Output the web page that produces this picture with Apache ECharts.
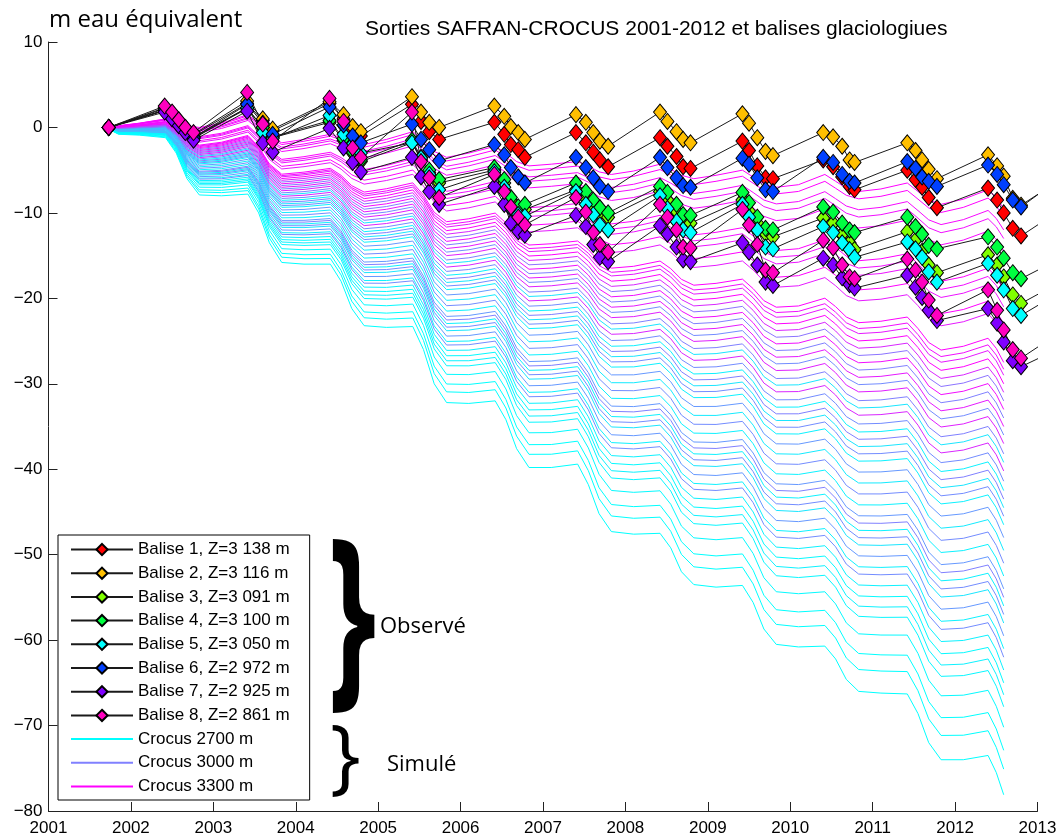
<!DOCTYPE html>
<html><head><meta charset="utf-8">
<script src="https://cdn.jsdelivr.net/npm/echarts@6/dist/echarts.min.js"></script>
<style>html,body{margin:0;padding:0;background:#fff}#c{width:1062px;height:839px}</style>
</head><body><div id="c"></div>
<script>
// ---------------- DATA ----------------
const xTickYears = [2001,2002,2003,2004,2005,2006,2007,2008,2009,2010,2011,2012,2013];
const yTickValues = [10,0,-10,-20,-30,-40,-50,-60,-70,-80];

const baliseNames = ['Balise 1, Z=3 138 m','Balise 2, Z=3 116 m','Balise 3, Z=3 091 m','Balise 4, Z=3 100 m',
  'Balise 5, Z=3 050 m','Balise 6, Z=2 972 m','Balise 7, Z=2 925 m','Balise 8, Z=2 861 m'];
const baliseColors = ['#ff0000','#ffbf00','#80ff00','#00ff40','#00ffff','#0040ff','#8000ff','#ff00bf'];

const baliseDates = [2001.73,
 2002.41,2002.50,2002.58,2002.66,2002.76,
 2003.41,2003.60,2003.72,
 2004.41,2004.58,2004.69,2004.79,
 2005.41,2005.52,2005.62,2005.74,
 2006.41,2006.53,2006.61,2006.70,2006.78,
 2007.40,2007.52,2007.61,2007.69,2007.79,
 2008.42,2008.51,2008.62,2008.70,2008.79,
 2009.42,2009.50,2009.60,2009.70,2009.79,
 2010.40,2010.52,2010.63,2010.72,2010.78,
 2011.42,2011.52,2011.60,2011.68,2011.78,
 2012.40,2012.51,2012.59,2012.70,2012.80,
 2013.41];

const balise1 = [0, 2.2,1.5,0.7,-0.1,-0.9, 2.8,0.8,-0.4, 2.8,1.0,-0.3,-1.0, 2.7,0.7,-0.5,-1.4, 0.6,-0.8,-2.0,-2.6,-3.5, -0.6,-1.8,-2.9,-3.8,-4.6, -1.2,-2.2,-3.4,-4.6,-4.8, -1.6,-2.7,-4.5,-5.9,-6.0, -3.8,-4.6,-5.8,-6.9,-7.3, -5.0,-6.1,-7.0,-8.2,-9.4, -7.1,-8.5,-10.0,-11.8,-12.7, -8.8];
const balise2 = [0, 2.3,1.6,0.8,0.0,-0.8, 3.1,1.0,-0.2, 3.0,1.5,0.1,-0.5, 3.6,1.8,0.6,0.0, 2.5,1.3,0.1,-0.6,-1.4, 1.5,0.6,-0.6,-1.6,-2.2, 1.8,0.7,-0.5,-1.4,-1.8, 1.6,0.5,-1.2,-2.8,-3.3, -0.6,-1.1,-2.2,-3.8,-4.1, -1.8,-2.7,-3.8,-4.9,-6.0, -3.2,-4.5,-5.7,-8.3,-9.1, -5.3];
const balise3 = [0, 2.0,1.2,0.4,-0.4,-1.2, 2.2,0.0,-1.2, 0.6,-1.5,-3.0,-4.0, -1.8,-3.8,-5.3,-6.5, -5.0,-6.5,-8.5,-9.5,-9.6, -7.3,-8.3,-9.2,-10.0,-10.5, -7.5,-8.5,-9.8,-10.8,-11.2, -8.5,-9.8,-11.2,-12.4,-12.8, -10.6,-11.2,-12.5,-13.5,-14.3, -12.2,-13.2,-14.5,-16.1,-17.0, -14.9,-16.1,-17.5,-19.6,-20.6, -17.4];
const balise4 = [0, 2.0,1.3,0.4,-0.4,-1.1, 2.3,0.0,-1.1, 0.8,-1.3,-2.8,-3.8, -1.5,-3.5,-5.0,-6.1, -4.7,-6.1,-8.2,-9.3,-9.0, -6.5,-7.5,-8.5,-9.4,-10.0, -6.9,-7.6,-9.0,-10.2,-10.3, -7.6,-8.8,-10.5,-11.8,-12.0, -9.3,-9.9,-11.2,-12.0,-12.3, -10.5,-11.6,-12.5,-13.8,-14.2, -12.8,-14.0,-15.3,-17.0,-17.7, -14.7];
const balise5 = [0, 2.0,1.2,0.3,-0.5,-1.3, 2.3,-0.6,-1.3, 1.4,-0.8,-2.0,-3.0, -1.8,-3.6,-5.5,-7.3, -5.2,-7.0,-9.5,-10.2,-10.4, -7.5,-9.0,-10.2,-11.4,-12.0, -8.0,-9.5,-11.0,-12.0,-12.3, -9.0,-10.5,-12.0,-14.0,-14.2, -11.6,-12.3,-13.5,-14.3,-15.2, -13.4,-14.2,-15.2,-16.9,-18.1, -15.9,-17.3,-19.0,-21.2,-22.0, -18.5];
const balise6 = [0, 2.0,1.3,0.5,-0.3,-1.2, 2.7,0.5,-0.8, 2.4,0.3,-1.0,-1.8, 0.4,-1.4,-2.6,-3.9, -2.0,-3.2,-4.7,-5.8,-6.5, -3.5,-4.7,-5.9,-6.9,-7.5, -3.5,-4.7,-5.9,-6.8,-7.0, -3.6,-4.3,-5.9,-7.3,-7.5, -3.5,-4.1,-5.5,-6.3,-6.5, -4.0,-4.8,-5.8,-6.3,-6.9, -4.4,-5.5,-6.7,-8.5,-9.3, -5.0];
const balise7 = [0, 1.8,1.0,0.2,-0.6,-1.5, 1.9,-1.8,-2.9, -0.1,-2.4,-4.1,-5.2, -3.5,-5.8,-7.5,-9.0, -6.9,-9.0,-11.2,-12.2,-12.6, -10.3,-11.6,-13.7,-15.2,-15.7, -11.5,-12.5,-14.0,-15.5,-15.7, -13.5,-14.6,-16.1,-18.1,-18.5, -15.3,-16.1,-17.6,-18.4,-18.8, -17.3,-18.7,-19.9,-21.4,-22.6, -21.2,-22.9,-25.1,-27.3,-28.0, -25.2];
const balise8 = [0, 2.5,1.8,0.9,0.0,-0.6, 4.1,0.4,-1.6, 3.4,0.7,-2.4,-3.5, 1.8,-4.0,-5.9,-8.2, -5.5,-7.5,-9.3,-10.5,-11.4, -8.2,-9.9,-12.3,-13.7,-14.6, -9.0,-10.5,-12.0,-14.0,-14.1, -9.6,-11.4,-13.7,-16.7,-17.0, -13.2,-14.1,-16.1,-17.5,-17.7, -15.4,-16.7,-18.1,-20.2,-22.0, -19.0,-21.4,-23.7,-26.0,-27.0, -23.1];
const baliseValues = [balise1,balise2,balise3,balise4,balise5,balise6,balise7,balise8];

// Crocus simulated curves: read envelope lines (highest and lowest) at key dates,
// plus end value (2012.59) and altitude tone (0 = 2700 m, 1 = 3300 m) of each curve.
const crocusDates = [2001.75,2001.85,
 2002.10,2002.42,2002.55,2002.68,2002.83,
 2003.10,2003.42,2003.55,2003.68,2003.83,
 2004.10,2004.42,2004.55,2004.68,2004.83,
 2005.10,2005.42,2005.55,2005.68,2005.83,
 2006.10,2006.42,2006.55,2006.68,2006.83,
 2007.10,2007.42,2007.55,2007.68,2007.83,
 2008.10,2008.42,2008.55,2008.68,2008.83,
 2009.10,2009.42,2009.55,2009.68,2009.83,
 2010.10,2010.42,2010.55,2010.68,2010.83,
 2011.10,2011.42,2011.55,2011.68,2011.83,
 2012.10,2012.40,2012.50,2012.59];
const crocusTop = [0,0.2,
 0.5,1.0,0.7,0.2,0.0,
 0.5,1.5,0.5,-1.0,-1.8,
 -1.4,-0.8,-1.2,-1.7,-2.0,
 -1.4,-0.5,-1.5,-2.8,-3.5,
 -3.0,-2.2,-3.0,-4.0,-4.5,
 -4.3,-4.0,-4.5,-5.2,-5.5,
 -5.1,-4.3,-4.9,-5.6,-6.0,
 -5.6,-5.0,-5.8,-6.6,-7.0,
 -6.7,-5.5,-6.3,-7.1,-7.5,
 -7.2,-6.5,-7.5,-8.5,-9.0,
 -8.4,-7.3,-8.2,-9.5];
const crocusBottom = [-0.3,-0.8,
 -0.9,-1.2,-3.0,-6.0,-7.9,
 -8.0,-7.8,-10.0,-13.5,-15.8,
 -16.0,-16.0,-18.0,-21.2,-23.2,
 -23.4,-23.3,-26.0,-30.0,-32.2,
 -32.3,-32.0,-34.2,-37.6,-39.8,
 -39.8,-39.4,-41.8,-45.2,-47.3,
 -47.6,-47.5,-49.2,-52.0,-53.5,
 -53.8,-53.6,-55.6,-58.7,-60.5,
 -60.8,-60.7,-62.2,-64.6,-66.0,
 -66.2,-66.3,-68.6,-72.0,-74.0,
 -74.0,-73.5,-75.5,-78.1];
const crocusEnd = [-9.5,-10.5,-12,-13,-14.5,-19,-20,-21,-23,-24.5,
 -27.5,-28.3,-29,-30,-31,-32,-33,-34,-35,-36,-37,-38.2,-39.2,-40.2,-41.4,-42.5,-43.5,-44.5,-45.5,-46.5,
 -48,-49.5,-51,-52.5,-54,-55,-56,-57,-58,-59.5,-61,-62,-63.5,-65,-66.4,-67.8,-70.2,-72.9,-75.1,-78.1];
const crocusTone = [1,1,0.97,0.95,0.97,1,0.95,0.93,1,0.9,
 1,0.95,0.9,1,0.85,0.55,0.95,0.5,0.9,0.45,0.88,0.5,0.1,0.85,0.45,0.05,0.5,0.1,0.45,0.05,
 0.4,0.08,0.45,0.05,0.4,0.5,0.05,0.45,0.1,0.4,0.05,0.45,0.05,0.02,0.05,0.03,0.02,0,0,0];
const crocusLegend = {49:'Crocus 2700 m', 17:'Crocus 3000 m', 0:'Crocus 3300 m'};

// ---------------- CHART ----------------
const chart = echarts.init(document.getElementById('c'), null, {renderer:'canvas'});
const coolColor = t => `rgb(${Math.round(255*t)},${Math.round(255*(1-t))},255)`;
const nLast = crocusDates.length - 1;
const series = [];
crocusEnd.forEach((e, i) => {
  const w = (e - crocusTop[nLast]) / (crocusBottom[nLast] - crocusTop[nLast]);
  series.push({
    type:'line', name: crocusLegend[i] || ('crocus' + i), symbol:'none', silent:true,
    data: crocusDates.map((d,k) => [d, crocusTop[k] + w*(crocusBottom[k]-crocusTop[k])]),
    lineStyle:{color: coolColor(crocusTone[i]), width:1}, itemStyle:{color: coolColor(crocusTone[i]), opacity:0},
    z:2, animation:false
  });
});
baliseValues.forEach((vals, b) => {
  series.push({
    type:'line', name: baliseNames[b], symbol:'diamond', symbolSize:[13,16], showSymbol:true,
    data: baliseDates.map((d,k) => [d, vals[k]]),
    lineStyle:{color:'#1a1a1a', width:1},
    itemStyle:{color: baliseColors[b], borderColor:'#000', borderWidth:1},
    z:5, animation:false, silent:true
  });
});

const legendCrocus = ['Crocus 2700 m','Crocus 3000 m','Crocus 3300 m'].map(n => ({name:n, itemStyle:{opacity:0}}));
const tickFont = {fontFamily:'"Liberation Sans", Arial, sans-serif', fontSize:17, color:'#000'};
const option = {
  animation:false,
  backgroundColor:'#fff',
  grid:{left:48.5, right:24.5, top:42, bottom:28, containLabel:false},
  xAxis:{type:'value', min:xTickYears[0], max:xTickYears[xTickYears.length-1], interval:1,
    axisLine:{show:true, onZero:false, lineStyle:{color:'#222', width:1}},
    axisTick:{show:true, inside:true, length:9, lineStyle:{color:'#222'}},
    axisLabel:{...tickFont, margin:9, showMinLabel:true, showMaxLabel:true, formatter: v => String(v)},
    splitLine:{show:false}},
  yAxis:{type:'value', min:yTickValues[yTickValues.length-1], max:yTickValues[0], interval:10,
    axisLine:{show:true, onZero:false, lineStyle:{color:'#222', width:1}},
    axisTick:{show:true, inside:true, length:9, lineStyle:{color:'#222'}},
    axisLabel:{...tickFont, margin:6, formatter: v => v < 0 ? '\u2212' + (-v) : String(v)},
    splitLine:{show:false}},
  legend:{
    show:true, orient:'vertical', left:58, top:535, selectedMode:false,
    data:[...baliseNames, ...legendCrocus],
    itemWidth:62, itemHeight:14, itemGap:6.7,
    padding:[6,20,5,12], borderColor:'#000', borderWidth:1, backgroundColor:'#fff',
    textStyle:{fontFamily:'"Liberation Sans", Arial, sans-serif', fontSize:17, color:'#000'}
  },
  graphic:[
    {type:'text', left:365, top:19, z:100, style:{text:'Sorties SAFRAN-CROCUS 2001-2012 et balises glaciologiues',
      font:'21px "Liberation Sans", Arial, sans-serif', fill:'#000'}},
    {type:'text', left:49, top:8, z:100, style:{text:'m eau équivalent', font:'24px "Open Sans", sans-serif', fill:'#000'}},
    {type:'text', x:328, y:525, scaleX:0.72, scaleY:1.17, z:100,
      style:{text:'}', font:'bold 170px "Open Sans", sans-serif', fill:'#000', verticalAlign:'top', textVerticalAlign:'top'}},
    {type:'text', left:380, top:616, z:100, style:{text:'Observé', font:'22px "Open Sans", sans-serif', fill:'#000'}},
    {type:'text', left:330, top:720, z:100, style:{text:'}', font:'82px "Open Sans", sans-serif', fill:'#000'}},
    {type:'text', left:387, top:754, z:100, style:{text:'Simulé', font:'22px "Open Sans", sans-serif', fill:'#000'}}
  ],
  series
};
chart.setOption(option);
</script></body></html>
